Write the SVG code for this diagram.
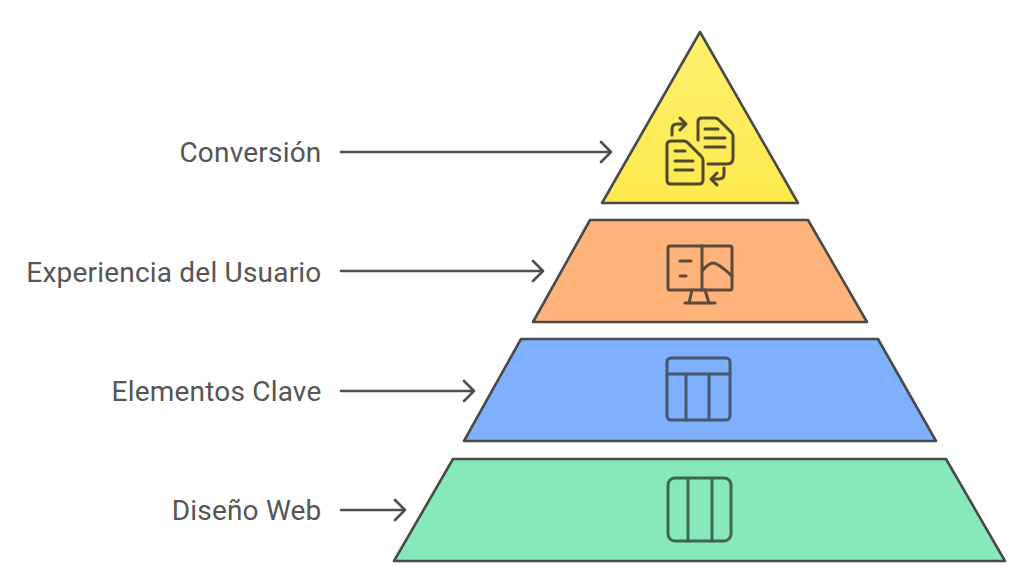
<svg xmlns="http://www.w3.org/2000/svg" width="1024" height="580" viewBox="0 0 1024 580">
<style>
.shape{stroke:#4a4a4a;stroke-width:2.6;stroke-linejoin:round}
.icon{fill:none;stroke-width:3;stroke-linecap:round;stroke-linejoin:round}
.conn{fill:none;stroke:#4f4f4f;stroke-width:2.6;stroke-linecap:round;stroke-linejoin:round}
.lab{font-family:Roboto,"Liberation Sans",sans-serif;font-size:28px;fill:#555;text-anchor:end;letter-spacing:.2px}
</style>
<defs>
<linearGradient id="y" x1="0" y1="0" x2="0" y2="1"><stop offset="0" stop-color="#fdf06c"/><stop offset="1" stop-color="#fce94f"/></linearGradient>
</defs>
<rect width="1024" height="580" fill="#fff"/>
<g id="conversion">
<polygon class="shape" fill="url(#y)" points="700,32 798,203 602,203"/>
<g class="icon" stroke="#4f4a2c">
<path d="M698 140V122q0-4 4-4h13q2 0 4 2l12 12q2 2 2 4v22q0 6-6 6h-19M705 129h13M705 138h20M705 147h20"/>
<path d="M667 145q0-4 4-4h13q2 0 4 2l13 13q2 2 2 4v20q0 4-4 4h-28q-4 0-4-4zM675 151h10M675 161h18M675 170h18"/>
<path d="M672 135v-6q0-5 5-5h9M680 118l6 6-6 6M724 168v6q0 5-5 5h-8M717 173l-6 6 6 6"/>
</g>
</g>
<g id="experiencia">
<polygon class="shape" fill="#fdb37a" points="590,220 808,220 867,322 533,322"/>
<g class="icon" stroke="#5e4a3a">
<rect x="668" y="246" width="64" height="44" rx="2"/>
<path d="M702 246v44M680 261h11M680 276h6M703 270q6-7 10-7q5 0 19 13M692 290l-3 13M705 290l4 13M685 303h30"/>
</g>
</g>
<g id="elementos">
<polygon class="shape" fill="#7eb0fe" points="521,339 878,339 936,441 464,441"/>
<g class="icon" stroke="#47566f">
<rect x="667" y="358" width="63" height="62" rx="4"/>
<path d="M667 374h63M686 374v46M709 374v46"/>
</g>
</g>
<g id="diseno">
<polygon class="shape" fill="#87e9b9" points="453,459 946,459 1005,561 394,561"/>
<g class="icon" stroke="#3f6650">
<rect x="668" y="478" width="63" height="63" rx="7"/>
<path d="M688 478v63M712 478v63"/>
</g>
</g>
<g id="connectors">
<path class="conn" d="M341 152H611M601 142l10 10-10 10"/>
<path class="conn" d="M341 271H543M533 261l10 10-10 10"/>
<path class="conn" d="M341 391H474M464 381l10 10-10 10"/>
<path class="conn" d="M341 510H405M395 500l10 10-10 10"/>
</g>
<text class="lab" x="321.5" y="162">Conversión</text>
<text class="lab" x="321.5" y="282">Experiencia del Usuario</text>
<text class="lab" x="321.5" y="401">Elementos Clave</text>
<text class="lab" x="321.5" y="520">Diseño Web</text>
</svg>
